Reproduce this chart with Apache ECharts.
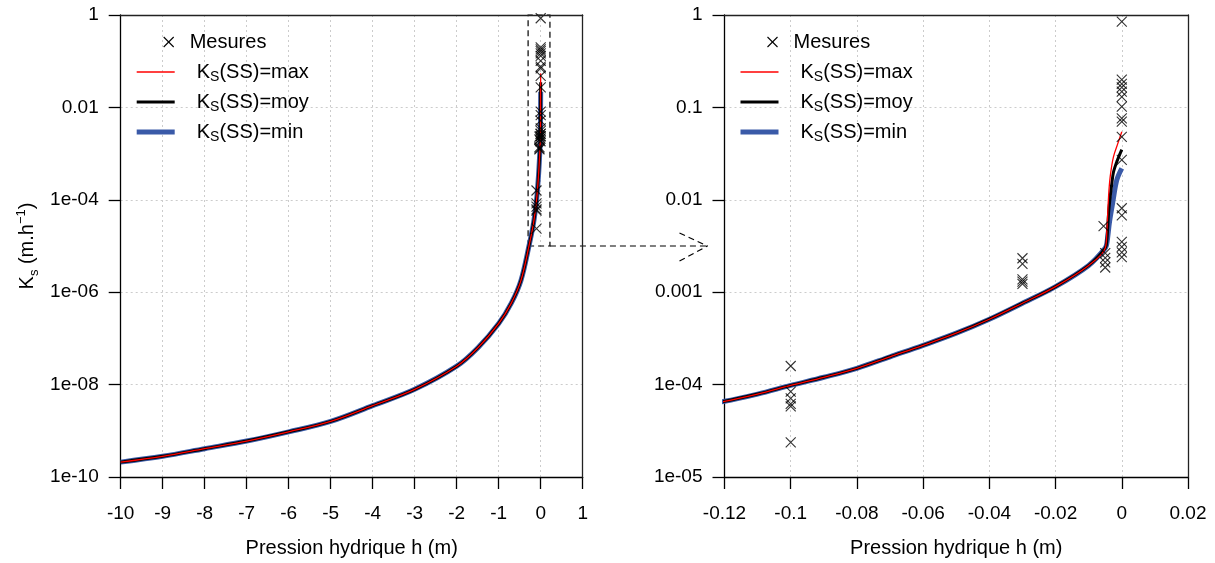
<!DOCTYPE html>
<html><head><meta charset="utf-8">
<script src="https://cdn.jsdelivr.net/npm/echarts@6/dist/echarts.min.js"></script>
<style>html,body{margin:0;padding:0;background:#fff}#c{width:1215px;height:563px}</style>
</head><body><div id="c"></div>
<script>
// ---- DATA ----
// Shared part of the Ks(h) curves (h in m, Ks in m/h)
const baseH = [-10,-9,-8,-7,-6,-5,-4,-3,-2,-1.5,-1,-0.7,-0.47,-0.27,-0.18,-0.12,-0.11,-0.1,-0.09,-0.08,-0.07,-0.06,-0.05,-0.04,-0.03,-0.02,-0.01,-0.005];
const baseK = [2.1e-10,2.8e-10,4.1e-10,6.0e-10,9.5e-10,1.6e-9,3.5e-9,7.9e-9,2.5e-8,6.2e-8,2.1e-7,5.8e-7,1.8e-6,1.1e-5,2.8e-5,6.6e-5,7.9e-5,9.8e-5,1.2e-4,1.5e-4,2.0e-4,2.66e-4,3.6e-4,5.1e-4,7.6e-4,1.15e-3,1.95e-3,3.0e-3];
// Tails near saturation, one per Ks(SS) case
const maxTailH = [-0.0045,-0.004,-0.0035,-0.0025,-0.001,0];
const maxTailK = [4.7e-3,1.08e-2,1.78e-2,2.93e-2,4.26e-2,5.45e-2];
const moyTailH = [-0.0045,-0.004,-0.0035,-0.003,-0.0025,-0.0015,0];
const moyTailK = [3.67e-3,7.1e-3,1.08e-2,1.51e-2,2.0e-2,2.59e-2,3.5e-2];
const minTailH = [-0.0045,-0.0037,-0.0027,-0.0015,0];
const minTailK = [3.4e-3,5.8e-3,9.5e-3,1.64e-2,2.19e-2];
// Measurements
const mesH = [-0.1,-0.1,-0.1,-0.1,-0.1,-0.1,
  -0.03,-0.03,-0.03,-0.03,-0.03,
  -0.0055,-0.005,-0.005,-0.005,-0.005,
  0,0,0,0,0,0,0,0,0,0,0,0,0,0,0,0,0];
const mesK = [1.59e-4,8.4e-5,7.1e-5,6.2e-5,5.8e-5,2.37e-5,
  2.33e-3,2.02e-3,1.38e-3,1.3e-3,1.23e-3,
  5.2e-3,2.65e-3,2.35e-3,2.1e-3,1.85e-3,
  0.85,0.2,0.18,0.165,0.148,0.13,0.102,0.076,0.07,0.048,0.027,0.0081,0.0068,0.0035,0.0031,0.0027,0.0024];
// Tick labels (exponent -> label)
const leftYExp = [-10,-8,-6,-4,-2,0];
const leftYLabels = ['1e-10','1e-08','1e-06','1e-04','0.01','1'];
const rightYExp = [-5,-4,-3,-2,-1,0];
const rightYLabels = ['1e-05','1e-04','0.001','0.01','0.1','1'];
const legendNames = ['Mesures','max','moy','min'];
// Zoom box drawn on the left panel
const zoomBoxH = [-0.3, 0.22];
const zoomBoxK = [1e-5, 1];

// ---- HELPERS ----
const FONT = '"Liberation Sans", Arial, sans-serif';
const zip = (a, b) => a.map((v, i) => [v, b[i]]);
const curveMax = zip(baseH.concat(maxTailH), baseK.concat(maxTailK));
const curveMoy = zip(baseH.concat(moyTailH), baseK.concat(moyTailK));
const curveMin = zip(baseH.concat(minTailH), baseK.concat(minTailK));
const mesures = zip(mesH, mesK);

const G = [
  {left:120.7, top:15, width:462, height:462},
  {left:724.5, top:15, width:463.5, height:462}
];

function labelFor(exps, labels) {
  return v => { const e = Math.round(Math.log10(v)); const i = exps.indexOf(e); return i >= 0 ? labels[i] : ''; };
}
const gridLine = {show:true, showMinLine:false, showMaxLine:false, lineStyle:{color:'#cccccc', type:[2,3], width:1}};
function xAxisCfg(gi, min, max, interval) {
  return {type:'value', gridIndex:gi, min, max, interval,
    name:'Pression hydrique h (m)', nameLocation:'middle', nameGap:61,
    nameTextStyle:{fontSize:20, color:'#000', fontFamily:FONT},
    axisLine:{show:true, onZero:false, lineStyle:{color:'#000', width:1.3}},
    axisTick:{show:true, length:12, lineStyle:{color:'#000', width:1.3}},
    axisLabel:{fontSize:19, color:'#000', margin:27, fontFamily:FONT, showMinLabel:true, showMaxLabel:true, hideOverlap:false},
    splitLine:gridLine};
}
function yAxisCfg(gi, min, max, exps, labels, withName) {
  const c = {type:'log', logBase:10, gridIndex:gi, min, max, interval: gi === 0 ? 2 : 1,
    axisLine:{show:true, onZero:false, lineStyle:{color:'#000', width:1.3}},
    axisTick:{show:true, length:12, lineStyle:{color:'#000', width:1.3}},
    axisLabel:{fontSize:19, color:'#000', margin:22, fontFamily:FONT, formatter:labelFor(exps, labels), showMinLabel:true, showMaxLabel:true, hideOverlap:false},
    splitLine:gridLine, minorTick:{show:false}};
  if (withName) {
    c.name = '{a|K}{s|s}{a| (m.h}{p|−1}{a|)}';
    c.nameLocation = 'middle'; c.nameGap = 80; c.nameRotate = 90;
    c.nameTextStyle = {color:'#000', fontFamily:FONT, rich:{
      a:{fontSize:20, lineHeight:26, fontFamily:FONT, color:'#000'},
      s:{fontSize:13, lineHeight:13, verticalAlign:'bottom', fontFamily:FONT, color:'#000'},
      p:{fontSize:13, lineHeight:13, verticalAlign:'top', fontFamily:FONT, color:'#000'}}};
  }
  return c;
}
// top/right frame axes (no labels) to close the box
function frameX(gi) { return {type:'value', gridIndex:gi, position:'top', min:0, max:1, z:6,
  axisLine:{show:true, onZero:false, lineStyle:{color:'#222', width:1.3}}, axisTick:{show:false}, axisLabel:{show:false}, splitLine:{show:false}}; }
function frameY(gi) { return {type:'value', gridIndex:gi, position:'right', min:0, max:1, z:6,
  axisLine:{show:true, onZero:false, lineStyle:{color:'#222', width:1.3}}, axisTick:{show:false}, axisLabel:{show:false}, splitLine:{show:false}}; }

const X_PATH = 'path://M0,0L10,10M10,0L0,10';
function seriesFor(gi) {
  const common = {xAxisIndex:gi, yAxisIndex:gi, animation:false, silent:true};
  const line = (data, color, w) => Object.assign({type:'line', data, showSymbol:false, symbol:'none',
    smooth:0.35, lineStyle:{color, width:w, join:'round'}, itemStyle:{color}, clip:true}, common);
  const s = [
    line(curveMin, '#3a5aa8', 5),
    line(curveMoy, '#000000', 3),
    line(curveMax, '#ff0000', 1.3),
    Object.assign({type:'scatter', data:mesures, symbol:X_PATH, symbolSize:10, z:3,
      itemStyle:{color:'transparent', borderColor:'#000', borderWidth:1.1}, clip:true}, common)
  ];
  if (gi === 0) {
    s[3].markArea = {silent:true, itemStyle:{color:'transparent', borderColor:'#000', borderWidth:1.2, borderType:[6,4]},
      data:[[{coord:[zoomBoxH[0], zoomBoxK[0]]}, {coord:[zoomBoxH[1], zoomBoxK[1]]}]]};
  }
  return s;
}
const legRich = {
  a:{fontSize:20, lineHeight:24, fontFamily:FONT, fill:'#000', color:'#000'},
  s:{fontSize:14, lineHeight:14, verticalAlign:'bottom', fontFamily:FONT, fill:'#000', color:'#000'}
};
function legendGraphic(x0) {
  const items = [];
  const styles = [null, {c:'#ff0000', w:1.3}, {c:'#000', w:3}, {c:'#3a5aa8', w:5}];
  const ys = [42, 72, 102, 132];
  items.push({type:'line', shape:{x1:x0+43, y1:ys[0]-5, x2:x0+53, y2:ys[0]+5}, style:{stroke:'#000', lineWidth:1.1}});
  items.push({type:'line', shape:{x1:x0+53, y1:ys[0]-5, x2:x0+43, y2:ys[0]+5}, style:{stroke:'#000', lineWidth:1.1}});
  items.push({type:'text', x:x0+69, y:ys[0], style:{text:legendNames[0], font:'20px '+FONT, fill:'#000', verticalAlign:'middle', textVerticalAlign:'middle'}});
  for (let i = 1; i < 4; i++) {
    items.push({type:'line', shape:{x1:x0+16, y1:ys[i], x2:x0+54, y2:ys[i]}, style:{stroke:styles[i].c, lineWidth:styles[i].w}});
    items.push({type:'text', x:x0+76, y:ys[i], style:{text:'{a|K}{s|S}{a|(SS)=' + legendNames[i] + '}', rich:legRich, font:'20px '+FONT, fill:'#000', verticalAlign:'middle', textVerticalAlign:'middle'}});
  }
  return items;
}

const chart = echarts.init(document.getElementById('c'), null, {renderer:'canvas'});
chart.setOption({
  animation:false,
  backgroundColor:'#fff',
  textStyle:{fontFamily:FONT},
  grid: G.map(g => Object.assign({show:false}, g)),
  xAxis:[xAxisCfg(0, -10, 1, 1), xAxisCfg(1, -0.12, 0.02, 0.02), frameX(0), frameX(1)],
  yAxis:[yAxisCfg(0, 1e-10, 1, leftYExp, leftYLabels, true), yAxisCfg(1, 1e-5, 1, rightYExp, rightYLabels, false), frameY(0), frameY(1)],
  series: seriesFor(0).concat(seriesFor(1))
});
// arrow from zoom box to right panel + legends
const p = chart.convertToPixel({xAxisIndex:0, yAxisIndex:0}, [zoomBoxH[1], zoomBoxK[0]]);
const q = chart.convertToPixel({xAxisIndex:1, yAxisIndex:1}, [-0.12, 1]);
const ex = q[0] - 17, ey = p[1];
const dash = {stroke:'#000', lineWidth:1.2, lineDash:[6,4]};
chart.setOption({graphic: [
  {type:'line', shape:{x1:p[0], y1:ey, x2:ex, y2:ey}, style:dash},
  {type:'line', shape:{x1:ex-28, y1:ey-13, x2:ex, y2:ey}, style:dash},
  {type:'line', shape:{x1:ex-28, y1:ey+15, x2:ex, y2:ey}, style:dash}
].concat(legendGraphic(G[0].left), legendGraphic(G[1].left))});
</script></body></html>
